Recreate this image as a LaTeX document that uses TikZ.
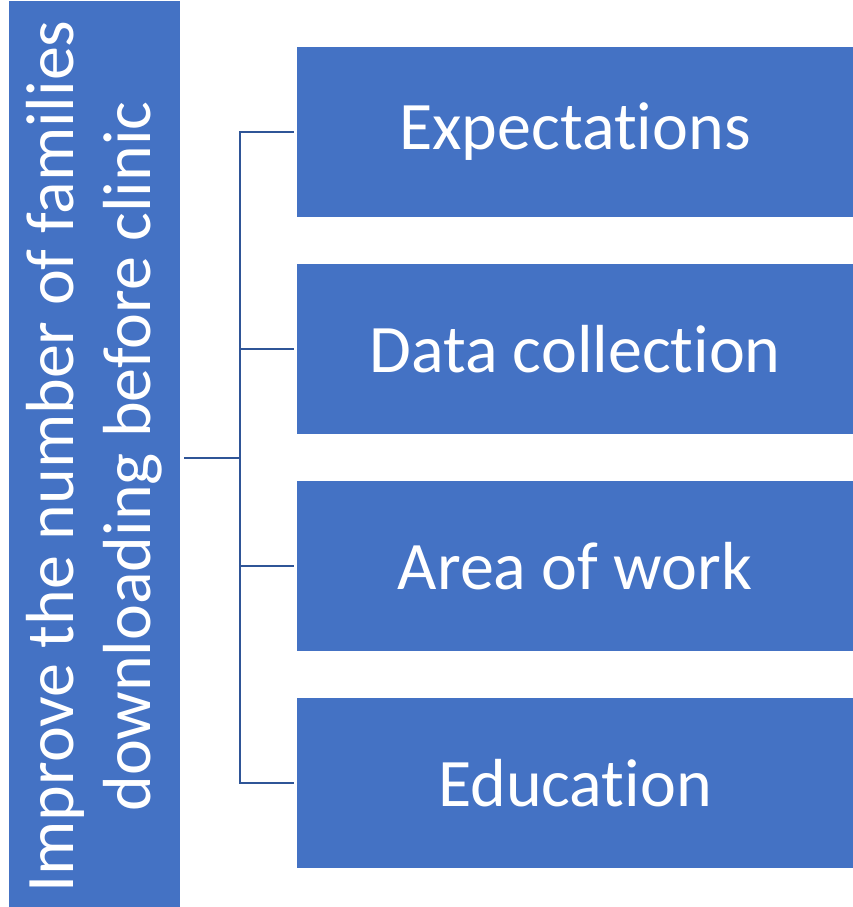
\documentclass[tikz,border=0pt]{standalone}
\usepackage{fontspec}
\setmainfont[Ligatures=NoCommon]{Carlito}
\definecolor{boxblue}{HTML}{4472C4}
\definecolor{linkblue}{HTML}{2F5597}
\begin{document}
\begin{tikzpicture}[x=1pt,y=-1pt,
    area/.style={fill=boxblue,text=white,inner sep=0pt,
      font=\fontsize{68}{77}\selectfont},
    topic/.style={area,minimum width=556pt,minimum height=170pt},
    link/.style={draw=linkblue,line width=2pt}]
  \useasboundingbox (0,0) rectangle (853,907);
  \node[area,rotate=90,align=center,minimum width=910pt,minimum height=171pt]
    (goal) at (94.5,456.5) {Improve the number of families\\downloading before clinic};
  \draw
    (575,132) node[topic] (0){Expectations}
    (575,349) node[topic] (1){Data collection}
    (575,566) node[topic] (2){Area of work}
    (575,783) node[topic] (3){Education};
  \coordinate (fork) at (240,458);
  \begin{scope}[link]
    \draw ([xshift=4pt]goal.south |- fork) -- (fork);
    \draw (fork) |- ([xshift=-3pt]0.west);
    \draw (fork) |- ([xshift=-3pt]1.west);
    \draw (fork) |- ([xshift=-3pt]2.west);
    \draw (fork) |- ([xshift=-3pt]3.west);
  \end{scope}
\end{tikzpicture}
\end{document}
